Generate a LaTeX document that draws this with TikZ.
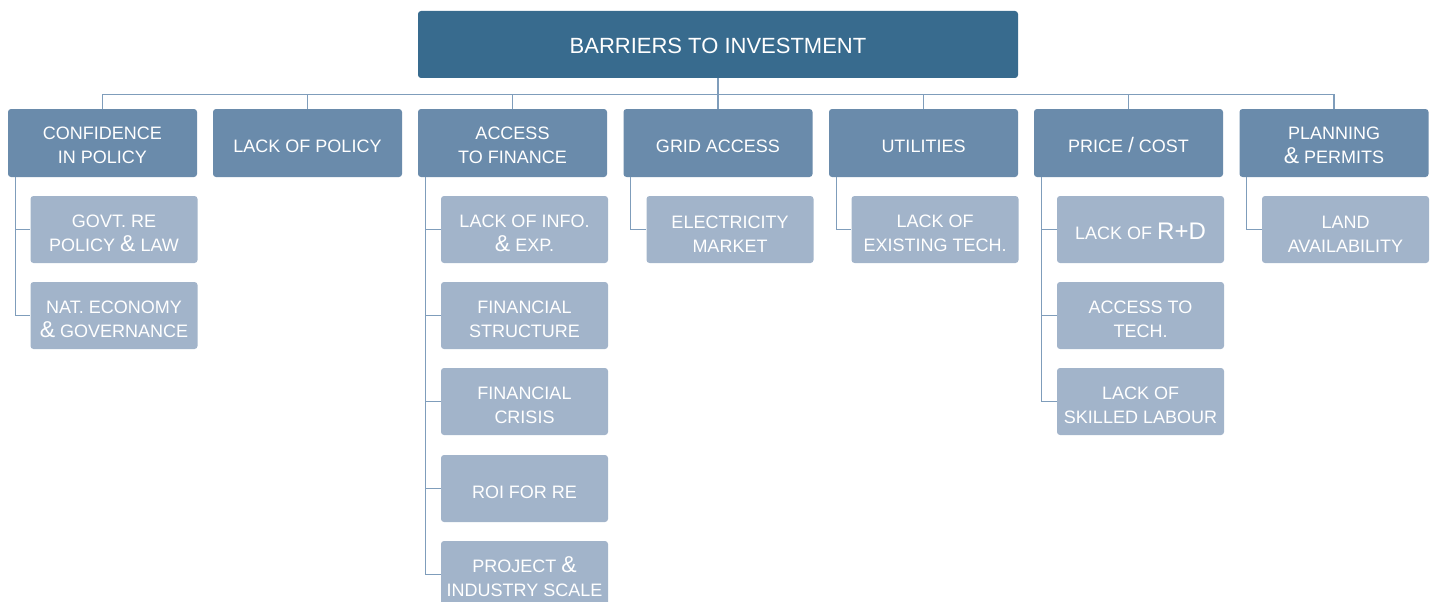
\documentclass[tikz,border=0pt]{standalone}
\usepackage{fontspec}
\setmainfont{Liberation Sans}
\definecolor{topc}{HTML}{386B8E}
\definecolor{midc}{HTML}{6A8BAB}
\definecolor{lowc}{HTML}{A2B4CA}
\definecolor{linec}{HTML}{7F9DBB}
\newcommand{\bigamp}{{\fontsize{23}{24}\selectfont\&}}
\begin{document}
\begin{tikzpicture}[x=1pt,y=-1pt,
  box/.style={rectangle,rounded corners=3pt,inner sep=0pt,align=center,text=white,
    font=\fontsize{18}{24}\selectfont},
  oneline/.style={execute at begin node={\rule{0pt}{19.5pt}}},
  twomid/.style={execute at begin node={\rule{0pt}{42pt}}},
  twolow/.style={execute at begin node={\rule{0pt}{45pt}}},
  topbox/.style={box,fill=topc,minimum width=600pt,minimum height=67pt,
    font=\fontsize{22}{24}\selectfont,execute at begin node={\rule{0pt}{17.5pt}}},
  midbox/.style={box,fill=midc,minimum width=189pt,minimum height=68pt},
  lowbox/.style={box,fill=lowc,minimum width=167pt,minimum height=67pt},
  conn/.style={draw=linec,line width=1.1pt}]
\useasboundingbox (0,0) rectangle (1435,602);
\node[topbox] (top) at (718,44.5) {BARRIERS TO INVESTMENT};
% level 1
\node[midbox,twomid] (a) at (102.5,143) {CONFIDENCE\\IN POLICY};
\node[midbox,oneline] (b) at (307.5,143) {LACK OF POLICY};
\node[midbox,twomid] (c) at (512.5,143) {ACCESS\\TO FINANCE};
\node[midbox,oneline] (d) at (718,143) {GRID ACCESS};
\node[midbox,oneline] (e) at (923.5,143) {UTILITIES};
\node[midbox,oneline] (f) at (1128.5,143) {PRICE {\fontsize{21}{24}\selectfont/} COST};
\node[midbox,twomid] (g) at (1334,143) {PLANNING\\\bigamp{} PERMITS};
% level 2
\node[lowbox,twolow] (a1) at (114,229.5) {GOVT. RE\\POLICY \bigamp{} LAW};
\node[lowbox,twolow] (a2) at (114,315.5) {NAT. ECONOMY\\\bigamp{} GOVERNANCE};
\node[lowbox,twolow] (c1) at (524.5,229.5) {LACK OF INFO.\\\bigamp{} EXP.};
\node[lowbox,twolow] (c2) at (524.5,315.5) {FINANCIAL\\STRUCTURE};
\node[lowbox,twolow] (c3) at (524.5,401.5) {FINANCIAL\\CRISIS};
\node[lowbox,oneline] (c4) at (524.5,488.5) {ROI FOR RE};
\node[lowbox,twolow] (c5) at (524.5,574.5) {PROJECT \bigamp\\INDUSTRY SCALE};
\node[lowbox,twolow] (d1) at (730,229.5) {ELECTRICITY\\MARKET};
\node[lowbox,twolow] (e1) at (935,229.5) {LACK OF\\EXISTING TECH.};
\node[lowbox,oneline] (f1) at (1140.5,229.5) {LACK OF {\fontsize{24}{24}\selectfont R+D}};
\node[lowbox,twolow] (f2) at (1140.5,315.5) {ACCESS TO\\TECH.};
\node[lowbox,twolow] (f3) at (1140.5,401.5) {LACK OF\\SKILLED LABOUR};
\node[lowbox,twolow] (g1) at (1345.5,229.5) {LAND\\AVAILABILITY};
% connectors top -> level 1
\foreach \n in {a,b,c,d,e,f,g}
  \draw[conn] (top.south) -- ++(0,16) -| (\n.north);
% connectors level 1 -> level 2
\foreach \p/\c in {a/a1,a/a2,c/c1,c/c2,c/c3,c/c4,c/c5,d/d1,e/e1,f/f1,f/f2,f/f3,g/g1}
  \draw[conn] ([xshift=7.5pt]\p.south west) |- (\c.west);
\end{tikzpicture}
\end{document}
